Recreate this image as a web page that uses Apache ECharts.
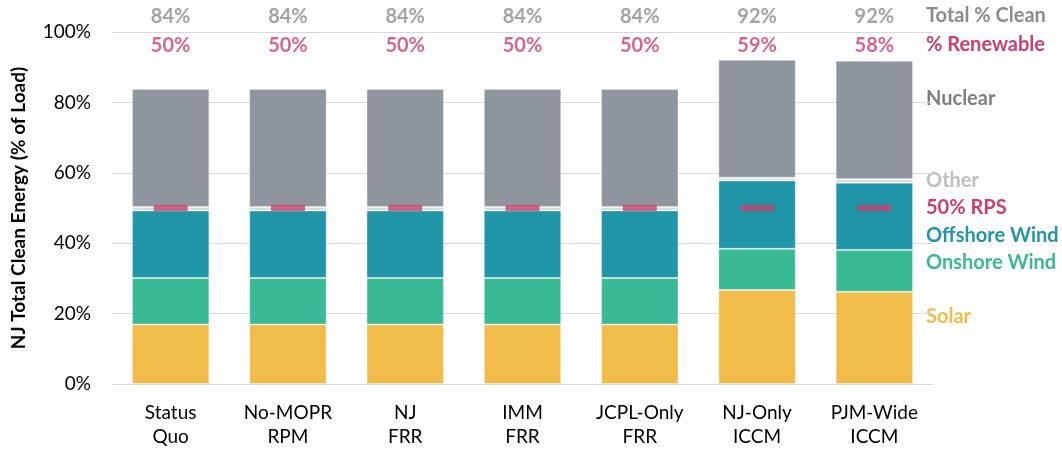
<!DOCTYPE html>
<html>
<head>
<meta charset="utf-8">
<script src="https://cdn.jsdelivr.net/npm/echarts@6/dist/echarts.min.js"></script>
<style>
  html, body { margin: 0; padding: 0; background: #fff; }
  #main { width: 1062px; height: 450px; }
</style>
</head>
<body>
<div id="main"></div>
<script>
"use strict";

// 场景分类
var categories = ['Status\nQuo', 'No-MOPR\nRPM', 'NJ\nFRR', 'IMM\nFRR', 'JCPL-Only\nFRR', 'NJ-Only\nICCM', 'PJM-Wide\nICCM'];

// 各类清洁能源占负荷比例 (%)
var solar    = [16.9, 16.9, 16.9, 16.9, 16.9, 26.7, 26.2];
var onshore  = [13.2, 13.2, 13.2, 13.2, 13.2, 11.7, 11.9];
var offshore = [19.2, 19.2, 19.2, 19.2, 19.2, 19.4, 19.1];
var other    = [1.0, 1.0, 1.0, 1.0, 1.0, 0.8, 1.0];
var nuclear  = [33.5, 33.5, 33.5, 33.5, 33.5, 33.5, 33.6];

var rpsTarget = 50;

var FONT = 'Lato';
var PINK = '#CC3E70';
var GRAY_TXT = '#8C8C8C';

// 合计：可再生 = 光伏+陆上风+海上风+其他，总清洁 = 可再生+核电
var renewable = solar.map(function (v, i) { return v + onshore[i] + offshore[i] + other[i]; });
var totalClean = renewable.map(function (v, i) { return v + nuclear[i]; });

function barSeries(name, data, color) {
    return {
        name: name,
        type: 'bar',
        stack: 'clean',
        barWidth: '66%',
        data: data,
        itemStyle: { color: color, borderColor: 'rgba(255,255,255,0.35)', borderWidth: 1 },
        emphasis: { disabled: true }
    };
}

function topLabelSeries(yPos, values, color) {
    return {
        type: 'scatter',
        symbolSize: 0,
        clip: false,
        silent: true,
        data: values.map(function (v, i) { return [i, yPos, v]; }),
        label: {
            show: true,
            position: 'inside',
            formatter: function (p) { return Math.round(p.data[2]) + '%'; },
            color: color,
            fontFamily: FONT,
            fontWeight: 'bold',
            fontSize: 20
        }
    };
}

function sideText(text, top, color) {
    return { type: 'text', left: 926, top: top, style: { text: text, fill: color, font: 'bold 20px Lato' } };
}

var chart = echarts.init(document.getElementById('main'));

var option = {
    animation: false,
    grid: { left: 112, right: 129, top: 32, bottom: 66 },
    xAxis: {
        type: 'category',
        data: categories,
        axisLine: { lineStyle: { color: '#D9D9D9', width: 1 } },
        axisTick: { show: false },
        axisLabel: { color: '#000', fontFamily: FONT, fontSize: 19, lineHeight: 24, margin: 17 }
    },
    yAxis: {
        type: 'value',
        min: 0,
        max: 100,
        interval: 20,
        name: 'NJ Total Clean Energy (% of Load)',
        nameLocation: 'middle',
        nameGap: 84,
        nameTextStyle: { color: '#000', fontFamily: FONT, fontWeight: 'bold', fontSize: 19 },
        axisLabel: { formatter: '{value}%', color: '#000', fontFamily: FONT, fontSize: 19, margin: 21 },
        splitLine: { lineStyle: { color: '#D9D9D9', width: 1 } },
        axisLine: { show: false },
        axisTick: { show: false }
    },
    series: [
        barSeries('Solar', solar, '#F2BC4A'),
        barSeries('Onshore Wind', onshore, '#39BA95'),
        barSeries('Offshore Wind', offshore, '#2196A9'),
        barSeries('Other', other, '#D9D9D9'),
        barSeries('Nuclear', nuclear, '#8E959D'),
        {
            name: '50% RPS',
            type: 'scatter',
            symbol: 'rect',
            symbolSize: [34, 6],
            z: 5,
            silent: true,
            itemStyle: { color: PINK },
            data: categories.map(function (c, i) { return [i, rpsTarget]; })
        },
        topLabelSeries(104.4, totalClean, GRAY_TXT),
        topLabelSeries(96.1, renewable, PINK)
    ],
    graphic: [
        sideText('Total % Clean', 6, GRAY_TXT),
        sideText('% Renewable', 35, PINK),
        sideText('Nuclear', 89, '#7F7F7F'),
        sideText('Other', 171, '#BFBFBF'),
        sideText('50% RPS', 198, PINK),
        sideText('Offshore Wind', 226, '#2196A9'),
        sideText('Onshore Wind', 253, '#39BA95'),
        sideText('Solar', 307, '#F2BC4A')
    ]
};

chart.setOption(option);
</script>
</body>
</html>
